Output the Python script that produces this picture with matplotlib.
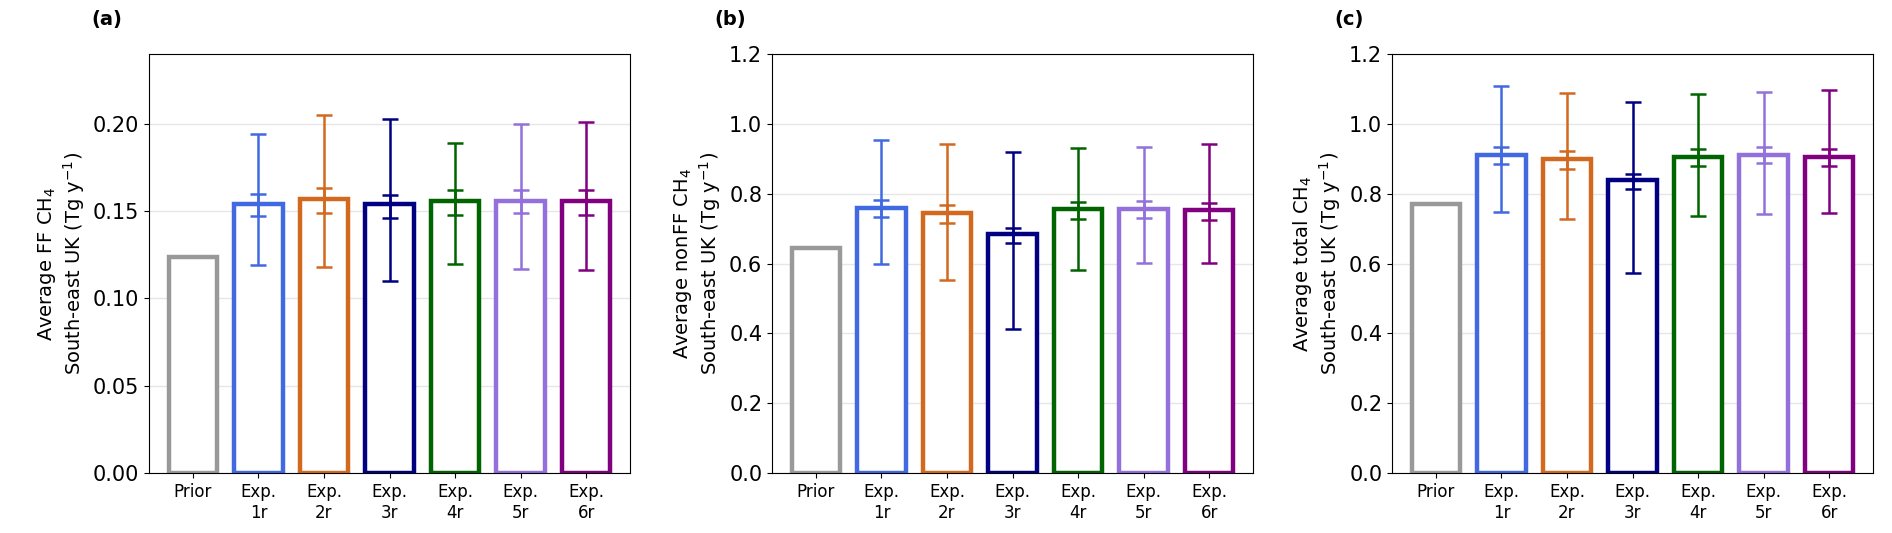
import matplotlib
matplotlib.use("Agg")
import matplotlib.pyplot as plt
import numpy as np

labels = ["Prior", "Exp.\n1r", "Exp.\n2r", "Exp.\n3r", "Exp.\n4r", "Exp.\n5r", "Exp.\n6r"]
colors = ["#999999", "#4169E1", "#D2691E", "#000080", "#006400", "#9370DB", "#800080"]

ff_vals = [0.124, 0.154, 0.157, 0.154, 0.156, 0.156, 0.156]
ff_outer_lo = [None, 0.119, 0.118, 0.110, 0.120, 0.117, 0.116]
ff_outer_hi = [None, 0.194, 0.205, 0.203, 0.189, 0.200, 0.201]
ff_inner_lo = [None, 0.147, 0.149, 0.146, 0.148, 0.149, 0.148]
ff_inner_hi = [None, 0.160, 0.163, 0.159, 0.162, 0.162, 0.162]

nonff_vals = [0.645, 0.760, 0.745, 0.685, 0.755, 0.757, 0.752]
nonff_outer_lo = [None, 0.598, 0.553, 0.413, 0.582, 0.602, 0.602]
nonff_outer_hi = [None, 0.955, 0.943, 0.918, 0.932, 0.933, 0.942]
nonff_inner_lo = [None, 0.733, 0.716, 0.658, 0.727, 0.730, 0.725]
nonff_inner_hi = [None, 0.782, 0.768, 0.703, 0.775, 0.778, 0.773]

tot_vals = [0.770, 0.912, 0.900, 0.838, 0.906, 0.912, 0.905]
tot_outer_lo = [None, 0.748, 0.727, 0.573, 0.735, 0.742, 0.746]
tot_outer_hi = [None, 1.108, 1.088, 1.063, 1.086, 1.092, 1.096]
tot_inner_lo = [None, 0.886, 0.872, 0.812, 0.880, 0.888, 0.880]
tot_inner_hi = [None, 0.935, 0.922, 0.857, 0.928, 0.935, 0.928]

panels = [
    ("(a)", "Average FF CH$_4$\nSouth-east UK (Tg y$^{-1}$)", ff_vals, ff_outer_lo, ff_outer_hi, ff_inner_lo, ff_inner_hi, 0.24, np.arange(0, 0.201, 0.05), "%.2f"),
    ("(b)", "Average nonFF CH$_4$\nSouth-east UK (Tg y$^{-1}$)", nonff_vals, nonff_outer_lo, nonff_outer_hi, nonff_inner_lo, nonff_inner_hi, 1.2, np.arange(0, 1.21, 0.2), "%.1f"),
    ("(c)", "Average total CH$_4$\nSouth-east UK (Tg y$^{-1}$)", tot_vals, tot_outer_lo, tot_outer_hi, tot_inner_lo, tot_inner_hi, 1.2, np.arange(0, 1.21, 0.2), "%.1f"),
]

fig = plt.figure(figsize=(18.92, 5.33), dpi=100)
W, H = 1892, 533
lefts = [149, 772, 1392]
aw = 481
top, bottom = 54, 473

for (tag, ylab, vals, olo, ohi, ilo, ihi, ymax, ticks, fmt), L in zip(panels, lefts):
    ax = fig.add_axes([L / W, 1 - bottom / H, aw / W, (bottom - top) / H])
    x = np.arange(len(vals))
    ax.bar(x, vals, width=0.74, facecolor="white", edgecolor=colors, linewidth=3.2, zorder=2)
    for i in range(1, len(vals)):
        ax.errorbar([x[i]], [vals[i]], yerr=[[vals[i] - olo[i]], [ohi[i] - vals[i]]],
                    fmt="none", ecolor=colors[i], elinewidth=1.8, capsize=6, capthick=1.8, zorder=3)
        ax.errorbar([x[i]], [vals[i]], yerr=[[vals[i] - ilo[i]], [ihi[i] - vals[i]]],
                    fmt="none", ecolor=colors[i], elinewidth=1.8, capsize=6, capthick=1.8, zorder=3)
    ax.set_xlim(-0.67, 6.67)
    ax.set_ylim(0, ymax)
    ax.set_yticks(ticks)
    ax.set_yticklabels([fmt % t for t in ticks], fontsize=15)
    ax.set_xticks(x)
    ax.set_xticklabels(labels, fontsize=12)
    ax.grid(axis="y", color="#e6e6e6", linewidth=1, zorder=0)
    ax.set_axisbelow(True)
    ax.set_ylabel(ylab, fontsize=14)
    ax.text(-0.12, 1.06, tag, transform=ax.transAxes, fontsize=14, fontweight="bold", va="bottom")

fig.savefig("out.png", dpi=100)
